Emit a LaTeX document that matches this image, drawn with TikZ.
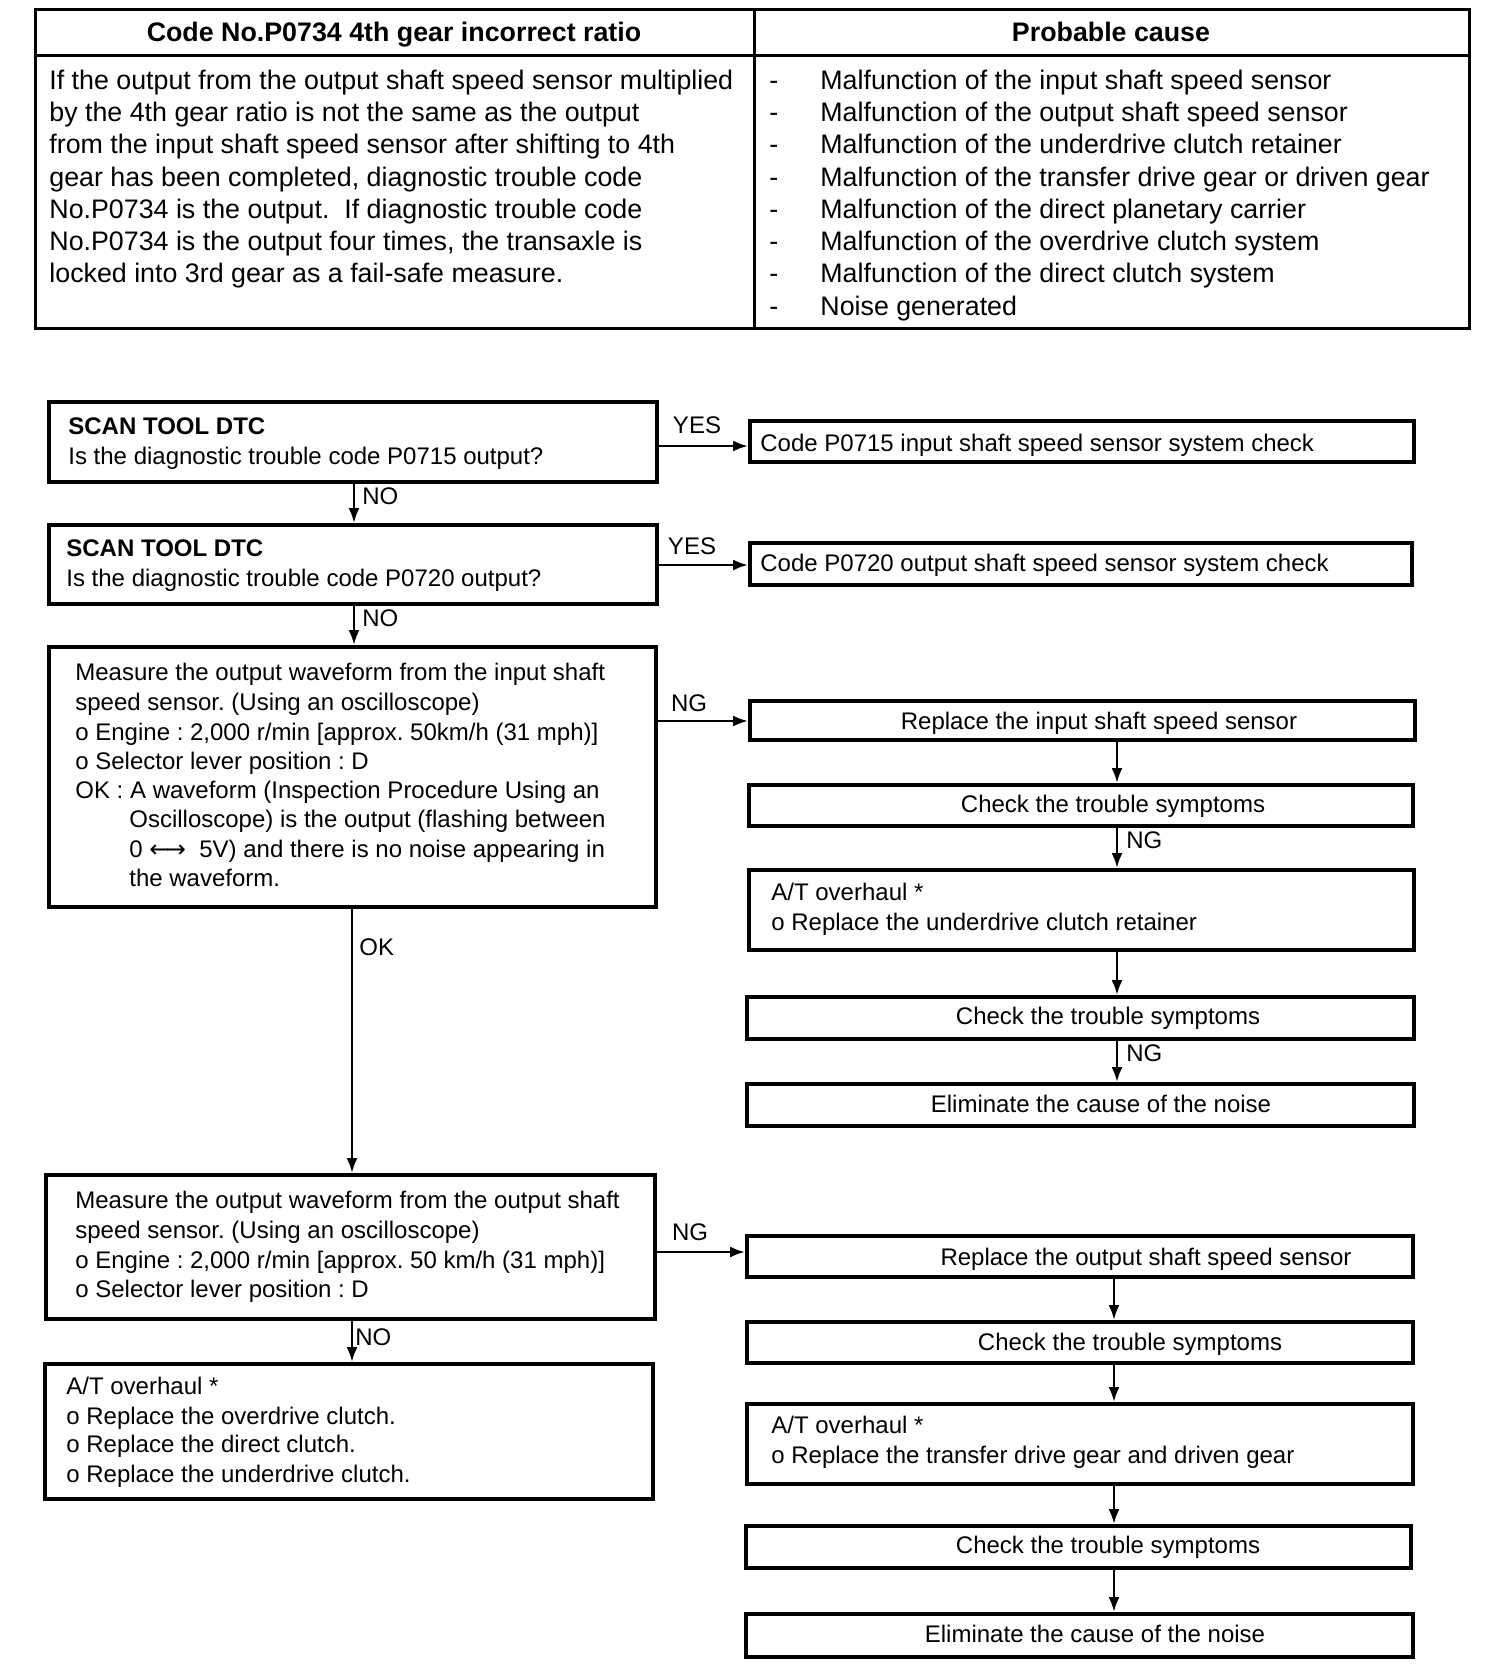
\documentclass[tikz,border=0pt]{standalone}
\usepackage{fontspec}
\setmainfont{Liberation Sans}
\newfontfamily\arrowfont{DejaVu Sans}
\usetikzlibrary{arrows.meta,fit}
\newcommand\flowfont{\fontsize{12pt}{15pt}\selectfont}
\newcommand\tabfont{\fontsize{13.4pt}{16pt}\selectfont}
\frenchspacing
\begin{document}
\begin{tikzpicture}[x=0.5pt,y=-0.5pt,
  box/.style={draw, line width=1.9pt, inner sep=0pt},
  txt/.style={inner sep=0pt, anchor=base west, font=\flowfont},
  ctxt/.style={inner sep=0pt, anchor=base, font=\flowfont},
  ttxt/.style={inner sep=0pt, anchor=base west, font=\tabfont},
  arr/.style={line width=1.4pt, -{Latex[length=7.5pt,width=5.5pt]}},
  lbl/.style={inner sep=0pt, anchor=base west, font=\flowfont}]
\fill[white] (0,0) rectangle (1504,1670);
\useasboundingbox (0,0) rectangle (1504,1670);

% ---------- table ----------
\node[box, line width=1.5pt, fit={(35,9)(1469,328)}] (tbl) {};
\coordinate (hl) at (0,55);
\coordinate (vl) at (754,0);
\draw[line width=1.5pt] (tbl.west |- hl) -- (tbl.east |- hl);
\draw[line width=1.5pt] (tbl.north -| vl) -- (tbl.south -| vl);
\node[inner sep=0pt, anchor=base, font=\tabfont\bfseries] (h1) at (394,41) {Code No.P0734 4th gear incorrect ratio};
\node[inner sep=0pt, anchor=base, font=\tabfont\bfseries] (h2) at (1111,41) {Probable cause};
\foreach \y/\t [count=\i] in {
  89/{If the output from the output shaft speed sensor multiplied},
  121/{by the 4th gear ratio is not the same as the output},
  153/{from the input shaft speed sensor after shifting to 4th},
  186/{gear has been completed, diagnostic trouble code},
  218/{No.P0734 is the output.~ If diagnostic trouble code},
  250/{No.P0734 is the output four times, the transaxle is},
  282/{locked into 3rd gear as a fail-safe measure.}}
  \node[ttxt] (L\i) at (49,\y) {\t};
\foreach \y/\t [count=\i] in {
  89/{Malfunction of the input shaft speed sensor},
  121/{Malfunction of the output shaft speed sensor},
  153/{Malfunction of the underdrive clutch retainer},
  186/{Malfunction of the transfer drive gear or driven gear},
  218/{Malfunction of the direct planetary carrier},
  250/{Malfunction of the overdrive clutch system},
  282/{Malfunction of the direct clutch system},
  315/{Noise generated}}
  {\node[ttxt] (D\i) at (769,\y) {-};
   \node[ttxt] (R\i) at (820,\y) {\t};}

% ---------- left column boxes ----------
\node[box, fit={(49,402)(657,482)}] (b1) {};
\node[txt, font=\flowfont\bfseries] (b1a) at (68,434) {SCAN TOOL DTC};
\node[txt] (b1b) at (68,464) {Is the diagnostic trouble code P0715 output?};

\node[box, fit={(49,525)(657,604)}] (b2) {};
\node[txt, font=\flowfont\bfseries] (b2a) at (66,556) {SCAN TOOL DTC};
\node[txt] (b2b) at (66,586) {Is the diagnostic trouble code P0720 output?};

\node[box, fit={(49,647)(656,907)}] (b3) {};
\foreach \x/\y/\t [count=\i] in {
  75/680/{Measure the output waveform from the input shaft},
  75/710/{speed sensor. (Using an oscilloscope)},
  75/740/{o Engine : 2,000 r/min [approx. 50km/h (31 mph)]},
  75/769/{o Selector lever position : D},
  75/798/{OK : A waveform (Inspection Procedure Using an},
  129/827/{Oscilloscope) is the output (flashing between},
  129/857/{0 {\arrowfont ←\kern-0.15em→}\ \ 5V) and there is no noise appearing in},
  129/886/{the waveform.}}
  \node[txt] (m\i) at (\x,\y) {\t};

\node[box, fit={(46,1175)(655,1319)}] (b4) {};
\foreach \y/\t [count=\i] in {
  1208/{Measure the output waveform from the output shaft},
  1238/{speed sensor. (Using an oscilloscope)},
  1268/{o Engine : 2,000 r/min [approx. 50 km/h (31 mph)]},
  1297/{o Selector lever position : D}}
  \node[txt] (n\i) at (75,\y) {\t};

\node[box, fit={(45,1364)(653,1499)}] (b5) {};
\foreach \y/\t [count=\i] in {
  1394/{A/T overhaul *},
  1424/{o Replace the overdrive clutch.},
  1452/{o Replace the direct clutch.},
  1482/{o Replace the underdrive clutch.}}
  \node[txt] (p\i) at (66,\y) {\t};

% ---------- right column boxes ----------
\node[box, fit={(750,421)(1414,462)}] (r1) {};
\node[txt] (r1t) at (760,451) {Code P0715 input shaft speed sensor system check};
\node[box, fit={(750,543)(1412,585)}] (r2) {};
\node[txt] (r2t) at (760,571) {Code P0720 output shaft speed sensor system check};

\node[box, fit={(750,701)(1415,740)}] (r3) {};
\node[ctxt] (r3t) at (1099,729) {Replace the input shaft speed sensor};
\node[box, fit={(749,785)(1413,826)}] (r4) {};
\node[ctxt] (r4t) at (1113,812) {Check the trouble symptoms};
\node[box, fit={(749,870)(1414,950)}] (r5) {};
\node[txt] (r5a) at (771,900) {A/T overhaul *};
\node[txt] (r5b) at (771,930) {o Replace the underdrive clutch retainer};
\node[box, fit={(747,997)(1414,1039)}] (r6) {};
\node[ctxt] (r6t) at (1108,1024) {Check the trouble symptoms};
\node[box, fit={(747,1084)(1414,1126)}] (r7) {};
\node[ctxt] (r7t) at (1101,1112) {Eliminate the cause of the noise};

\node[box, fit={(747,1236)(1413,1277)}] (s1) {};
\node[ctxt] (s1t) at (1146,1265) {Replace the output shaft speed sensor};
\node[box, fit={(747,1322)(1413,1363)}] (s2) {};
\node[ctxt] (s2t) at (1130,1350) {Check the trouble symptoms};
\node[box, fit={(747,1404)(1413,1484)}] (s3) {};
\node[txt] (s3a) at (771,1433) {A/T overhaul *};
\node[txt] (s3b) at (771,1463) {o Replace the transfer drive gear and driven gear};
\node[box, fit={(746,1526)(1411,1568)}] (s4) {};
\node[ctxt] (s4t) at (1108,1553) {Check the trouble symptoms};
\node[box, fit={(746,1614)(1413,1657)}] (s5) {};
\node[ctxt] (s5t) at (1095,1642) {Eliminate the cause of the noise};

% ---------- connectors ----------
\coordinate (cx1) at (354,0);
\coordinate (cx2) at (352,0);
\coordinate (rx1) at (1117,0);
\coordinate (rx2) at (1114,0);
\coordinate (hy1) at (0,446);
\coordinate (hy2) at (0,565);
\coordinate (hy3) at (0,721);
\coordinate (hy4) at (0,1252);

\draw[arr] (b1.south -| cx1) -- (b2.north -| cx1);
\draw[arr] (b2.south -| cx1) -- (b3.north -| cx1);
\draw[arr] (b3.south -| cx2) -- (b4.north -| cx2);
\draw[arr] (b4.south -| cx2) -- (b5.north -| cx2);

\draw[arr] (b1.east |- hy1) -- (r1.west |- hy1);
\draw[arr] (b2.east |- hy2) -- (r2.west |- hy2);
\draw[arr] (b3.east |- hy3) -- (r3.west |- hy3);
\draw[arr] (b4.east |- hy4) -- (s1.west |- hy4);

\draw[arr] (r3.south -| rx1) -- (r4.north -| rx1);
\draw[arr] (r4.south -| rx1) -- (r5.north -| rx1);
\draw[arr] (r5.south -| rx1) -- (r6.north -| rx1);
\draw[arr] (r6.south -| rx1) -- (r7.north -| rx1);

\draw[arr] (s1.south -| rx2) -- (s2.north -| rx2);
\draw[arr] (s2.south -| rx2) -- (s3.north -| rx2);
\draw[arr] (s3.south -| rx2) -- (s4.north -| rx2);
\draw[arr] (s4.south -| rx2) -- (s5.north -| rx2);

% ---------- labels ----------
\node[lbl, anchor=base] (yes1) at (697,433) {YES};
\node[lbl, anchor=base] (yes2) at (692,554) {YES};
\node[lbl, anchor=base] (ng1) at (689,711) {NG};
\node[lbl, anchor=base] (ng2) at (690,1240) {NG};
\node[lbl] (no1) at (362,504) {NO};
\node[lbl] (no2) at (362,626) {NO};
\node[lbl] (ok1) at (359,955) {OK};
\node[lbl] (no3) at (355,1345) {NO};
\node[lbl] (ng3) at (1126,848) {NG};
\node[lbl] (ng4) at (1126,1061) {NG};
\end{tikzpicture}
\end{document}
